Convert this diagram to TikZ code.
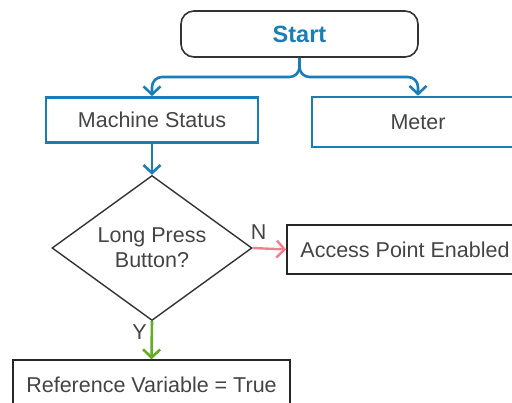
\documentclass[tikz,border=0pt]{standalone}
\usepackage{fontspec}
\setmainfont{Liberation Sans}
\usepackage{xcolor}
\usetikzlibrary{shapes.geometric, arrows.meta}

\definecolor{flowblue}{HTML}{1A7DB8}
\definecolor{flowtext}{HTML}{444444}
\definecolor{flowedge}{HTML}{333333}
\definecolor{flowno}{HTML}{F0808F}
\definecolor{flowyes}{HTML}{62AE1E}

\begin{document}
\begin{tikzpicture}[x=1pt, y=-1pt,
    txt/.style={font=\fontsize{21.5}{25}\selectfont, text=flowtext, align=center},
    bluebox/.style={txt, draw=flowblue, line width=2.6pt, inner sep=0pt},
    plainbox/.style={txt, draw=black!85, line width=1.5pt, inner sep=0pt},
    barb/.style={-{Straight Barb[length=8pt, width=17pt]}},
    blueflow/.style={barb, draw=flowblue, line width=2.6pt, rounded corners=10pt}]
  \clip (0,0) rectangle (512,403);

  % ----- Top: start and first branch -----
  \node[draw=flowedge, line width=1.6pt, rounded corners=13pt, minimum width=237pt, minimum height=46pt,
        font=\fontsize{23.5}{26}\selectfont\bfseries, text=flowblue] (start) at (299.5,34) {Start};
  \node[bluebox, minimum width=212pt, minimum height=45pt] (status) at (152,120) {Machine Status};
  \node[bluebox, minimum width=212pt, minimum height=50pt] (meter) at (418,122) {Meter};

  \draw[blueflow] (start.south) -- (start.south |- 0,77) -| (meter.north);
  \draw[blueflow] (start.south) -- (start.south |- 0,77) -| (status.north);

  % ----- Decision on the button -----
  \node[txt, draw=flowedge, line width=1.4pt, shape=diamond, aspect=1.38, inner sep=0pt,
        minimum width=200pt, minimum height=145pt] (press) at (152,248) {Long Press\\Button?};
  \draw[blueflow] (status.south) -- (press.north);

  % ----- Outcomes -----
  \node[plainbox, minimum width=236pt, minimum height=49pt] (access) at (405,249.5) {Access Point Enabled};
  \node[plainbox, minimum width=277pt, minimum height=50pt] (refvar) at (151.5,385) {Reference Variable = True};

  \draw[barb, flowno, line width=2.4pt] (press.east) -- (access.west)
    node[txt, pos=0, above right, inner sep=1pt, xshift=-4pt, yshift=6pt] (nlabel) {N};
  \draw[barb, flowyes, line width=2.6pt] (press.south) -- (refvar.north)
    node[txt, pos=0, below left, inner sep=1pt, xshift=-3pt, yshift=-1pt] (ylabel) {Y};
\end{tikzpicture}
\end{document}
